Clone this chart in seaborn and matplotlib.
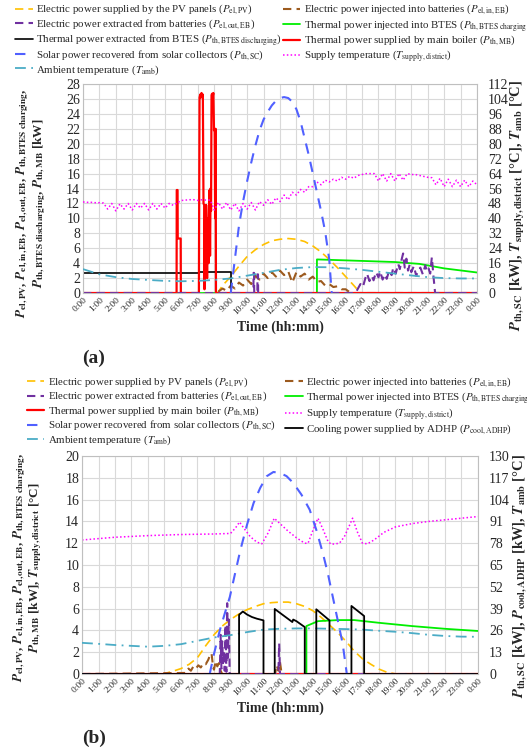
import matplotlib
matplotlib.use('Agg')
import matplotlib.pyplot as plt
import seaborn as sns

# ============================================================================
# DATA  (hours of day)
# ============================================================================
hour_ticks = list(range(25))
hour_labels = [f"{h % 24}:00" for h in hour_ticks]

# ---- panel (a) : left axis [kW]
pv_a_t = [0, 8.2, 8.5, 9, 9.5, 10, 10.5, 11, 11.5, 12, 12.5, 13, 13.5, 14, 14.5, 15, 15.5, 16, 16.5, 16.9, 24]
pv_a = [0, 0, 1.0, 2.2, 3.6, 4.9, 5.8, 6.5, 7.0, 7.2, 7.3, 7.2, 6.9, 6.3, 5.5, 4.5, 3.4, 2.2, 1.0, 0, 0]

ebin_a_t = [0, 8.0, 8.25, 8.5, 8.75, 9.0, 9.25, 9.5, 9.75, 10.0, 10.25, 10.5, 10.75, 11.0, 11.25, 11.5, 11.75,
            12.0, 12.25, 12.5, 12.75, 13.0, 13.25, 13.5, 13.75, 14.0, 14.25, 14.5, 14.75, 15.0, 15.25, 15.5,
            15.75, 16.0, 16.25, 16.5, 24]
ebin_a = [0, 0, 0.2, 0.6, 0.3, 1.0, 0.6, 1.4, 1.0, 1.8, 1.2, 2.3, 1.8, 2.6, 2.0, 2.8, 2.2,
          3.0, 2.4, 2.9, 1.4, 2.8, 2.2, 2.6, 1.8, 2.2, 1.5, 1.6, 1.0, 1.2, 0.8, 0.9,
          0.5, 0.5, 0.1, 0, 0]

ebout_a_t = [0, 10.38, 10.39, 10.42, 10.43, 10.62, 10.63, 10.66, 10.67, 16.6, 16.75, 16.9, 17.05, 17.2, 17.3,
             17.45, 17.6, 17.7, 17.85, 18.0, 18.1, 18.25, 18.4, 18.5, 18.65, 18.8, 18.9, 19.05, 19.2, 19.3,
             19.4, 19.5, 19.6, 19.7, 19.8, 19.9, 20.0, 20.15, 20.3, 20.4, 20.55, 20.7, 20.85, 20.95, 21.05,
             21.15, 21.25, 21.35, 21.45, 24]
ebout_a = [0, 0, 2.7, 2.7, 0, 0, 2.5, 2.5, 0, 0, 0.6, 1.2, 0.8, 2.0, 2.6,
           1.6, 2.3, 1.7, 2.8, 2.1, 2.9, 1.8, 2.5, 1.9, 3.0, 2.4, 3.4, 2.6, 3.9, 3.2,
           4.4, 5.3, 3.4, 4.6, 3.0, 3.8, 2.8, 3.6, 2.3, 3.0, 3.4, 2.5, 3.7, 2.9, 3.3,
           2.6, 4.8, 2.2, 0, 0]

chg_a_t = [0, 14.25, 14.25, 17, 19, 20.5, 22, 24]
chg_a = [0, 0, 4.5, 4.3, 4.15, 3.9, 3.3, 2.75]

dis_a_t = [0, 7.05, 7.05, 9.0, 9.0, 24]
dis_a = [2.7, 2.7, 2.85, 2.85, 0, 0]

mb_a_t = [0, 5.70, 5.71, 5.76, 5.77, 5.95, 5.96, 7.06, 7.07, 7.10, 7.14, 7.18, 7.22, 7.26, 7.30,
          7.34, 7.38, 7.40, 7.44, 7.47, 7.50, 7.53, 7.56, 7.59, 7.62, 7.65, 7.68, 7.71, 7.74, 7.77,
          7.80, 7.83, 7.86, 7.90, 7.94, 7.98, 8.02, 8.05, 8.08, 8.10, 8.11, 24]
mb_a = [0, 0, 13.8, 13.8, 7.3, 7.3, 0, 0, 7.5, 26.2, 26.6, 26.2, 26.8, 26.4, 26.6,
        12.0, 11.8, 0.5, 11.6, 4.0, 11.8, 10.0, 2.0, 10.0, 8.0, 4.0, 8.0, 13.8, 5.0, 14.0,
        11.0, 26.5, 26.7, 26.3, 26.8, 21.8, 22.0, 10.0, 22.0, 0, 0, 0]

# ---- panel (a) : right axis [kW] / [°C]
sc_a_t = [9.0, 9.25, 9.5, 9.75, 10.0, 10.25, 10.5, 10.75, 11.0, 11.25, 11.5, 11.75, 12.0, 12.25, 12.5,
          12.75, 13.0, 13.25, 13.5, 13.75, 14.0, 14.25, 14.5, 14.75, 15.0, 15.15]
sc_a = [0, 18, 36, 49, 60, 70, 79, 87, 93, 97, 100.5, 103, 104.5, 105, 104.5,
        102.5, 98.5, 92, 83, 74, 64, 54, 44, 33, 18, 0]

sup_a_t = [i * 0.25 for i in range(97)]
sup_a = [48.8, 48.6, 48.6, 48.4, 48.4, 48.2, 45.0, 48.0, 44.0, 47.8, 45.0, 48.0, 44.5, 48.0, 45.5, 48.0,
         44.5, 48.0, 45.0, 48.0, 45.5, 48.0, 47.0, 48.4, 49.6, 49.8, 50.0, 50.0, 49.6, 50.0, 49.8, 49.8,
         44.5, 48.5, 45.0, 48.5, 44.5, 48.0, 44.0, 48.0, 45.0, 48.5, 44.5, 49.0, 47.0, 50.0, 47.5, 51.0,
         49.0, 52.5, 50.0, 54.0, 52.5, 55.5, 54.0, 57.0, 57.0, 59.5, 58.0, 60.5, 59.5, 61.0, 60.0, 62.0,
         61.0, 62.5, 61.5, 63.0, 63.5, 64.0, 64.0, 64.0, 60.0, 64.0, 60.0, 64.0, 60.0, 64.0, 60.5, 64.0,
         63.5, 63.5, 63.0, 62.5, 62.0, 61.8, 58.0, 61.5, 57.0, 61.0, 57.0, 60.5, 57.0, 60.5, 57.0, 60.0,
         58.0]

amb_a_t = list(range(25))
amb_a = [12.8, 10.0, 8.5, 7.5, 7.0, 6.5, 6.3, 6.5, 7.0, 7.8, 9.3, 10.8, 12.4, 13.4, 13.9, 13.8, 13.2,
         12.4, 11.4, 10.4, 9.4, 8.5, 8.0, 7.8, 7.8]

# ---- panel (b) : left axis [kW] / [°C]
pv_b_t = [0, 4.9, 5.5, 6.0, 6.5, 7.0, 7.5, 8.0, 8.5, 9.0, 9.5, 10.0, 10.5, 11.0, 11.5, 12.0, 12.5, 13.0,
          13.5, 14.0, 14.5, 15.0, 15.5, 16.0, 16.5, 17.0, 17.5, 18.0, 18.5, 19.05, 24]
pv_b = [0, 0, 0.25, 0.5, 0.9, 1.5, 2.6, 3.6, 4.4, 5.0, 5.5, 5.9, 6.2, 6.45, 6.55, 6.6, 6.6, 6.45,
        6.2, 5.8, 5.2, 4.5, 3.8, 3.0, 2.1, 1.4, 0.9, 0.45, 0.15, 0, 0]

ebin_b_t = [0, 6.3, 6.45, 6.6, 6.75, 6.9, 7.05, 7.2, 7.35, 7.5, 7.65, 7.75, 7.85, 7.95, 8.0, 8.1, 8.2,
            8.3, 8.4, 8.5, 11.7, 11.8, 11.9, 12.0, 12.1, 24]
ebin_b = [0, 0.1, 0.5, 0.3, 0.7, 0.5, 0.8, 0.6, 1.0, 0.9, 1.3, 1.7, 1.9, 0.6, 0.4, 1.2, 0.7,
          1.0, 0.3, 0, 0, 0.8, 0.3, 1.1, 0, 0]

ebout_b_t = [0, 8.35, 8.4, 8.45, 8.5, 8.55, 8.6, 8.65, 8.7, 8.75, 8.8, 8.85, 8.9, 8.95, 9.0, 11.9, 11.95, 12.0, 24]
ebout_b = [0, 0, 3.6, 0.5, 3.0, 1.0, 2.0, 0.3, 4.5, 0.2, 6.5, 1.5, 5.0, 0, 0, 0, 2.8, 0, 0]

chg_b_t = [0, 13.6, 13.6, 14.3, 15.5, 16.5, 18, 20, 22, 24]
chg_b = [0, 0, 4.4, 4.85, 4.95, 4.95, 4.7, 4.4, 4.15, 3.95]

mb_b_t = [0, 24]
mb_b = [0, 0]

sup_b_t = [0, 2, 4, 6, 8, 9.0, 9.3, 9.55, 9.8, 10.2, 10.6, 10.9, 11.3, 11.65, 12.0, 12.5, 13.0, 13.5,
           13.7, 14.0, 14.3, 14.6, 14.9, 15.1, 15.6, 15.9, 16.2, 16.4, 16.7, 17.0, 17.3, 17.7, 18.3,
           19.0, 20.0, 21.0, 22.0, 23.0, 24.0]
sup_b = [12.3, 12.55, 12.7, 12.8, 12.85, 12.9, 13.4, 13.95, 13.4, 12.6, 12.1, 11.95, 13.0, 14.3, 13.8,
         13.1, 12.5, 12.0, 12.0, 13.2, 14.3, 13.3, 12.2, 11.9, 12.0, 12.6, 13.6, 14.3, 13.0, 12.0,
         11.95, 12.3, 13.0, 13.5, 13.8, 14.0, 14.15, 14.3, 14.45]

# ---- panel (b) : right axis [kW] / [°C]
sc_b_t = [7.74, 8.0, 8.35, 8.65, 8.96, 9.3, 9.6, 10.0, 10.4, 10.8, 11.2, 11.6, 12.0, 12.4, 12.8, 13.3,
          13.8, 14.2, 14.6, 14.9, 15.2, 15.5, 15.8, 16.05]
sc_b = [0, 12, 26, 36, 46, 61, 74, 89, 102, 111, 118, 120.5, 120, 118, 114, 107,
        98, 86, 72, 60, 46, 32, 18, 0]

adhp_b_t = [0, 9.52, 9.52, 9.75, 10.0, 10.3, 10.6, 11.0, 11.0, 11.68, 11.68, 12.2, 12.75, 12.8, 13.0,
            13.5, 13.5, 14.2, 14.2, 15.0, 15.0, 16.33, 16.33, 17.1, 17.1, 24]
adhp_b = [0, 0, 35.3, 37.3, 35.5, 34, 33, 32, 0, 0, 38.8, 35, 31, 32.5, 31.5,
          28, 0, 0, 38.6, 32, 0, 0, 40.6, 34.6, 0, 0]

amb_b_t = list(range(25))
amb_b = [18.6, 18.0, 17.3, 16.8, 16.3, 16.8, 17.8, 19.8, 21.8, 23.2, 25.0, 26.5, 27.0, 27.2, 27.2,
         27.0, 26.8, 26.5, 25.8, 25.2, 24.4, 23.4, 22.7, 22.3, 22.2]

# ============================================================================
# STYLE
# ============================================================================
sns.set_theme(style='whitegrid')
plt.rcParams['font.family'] = ['Liberation Serif', 'DejaVu Serif']
plt.rcParams['mathtext.fontset'] = 'stix'
plt.rcParams['axes.edgecolor'] = '#BFBFBF'
plt.rcParams['axes.linewidth'] = 0.8
plt.rcParams['grid.color'] = '#D9D9D9'
plt.rcParams['grid.linewidth'] = 0.8

C_PV = '#FFC000'
C_IN = '#9C5A1E'
C_OUT = '#7030A0'
C_CHG = '#00EE00'
C_DIS = '#000000'
C_MB = '#FF0000'
C_SC = '#5060FF'
C_SUP = '#FF00FF'
C_AMB = '#4BACC6'

LEG_FS = 7.8


def draw(ax, t, v, color, lw, dashes=None):
    sns.lineplot(x=t, y=v, ax=ax, color=color, linewidth=lw, estimator=None, sort=False, legend=False)
    line = ax.lines[-1]
    if dashes is not None:
        line.set_dashes(dashes)
    return line


def style_axes(ax, ax2, ymax_l, step_l, ymax_r, step_r):
    ax.set_xlim(0, 24)
    ax.set_xticks(hour_ticks)
    ax.set_xticklabels(hour_labels, rotation=45, ha='right', va='top', rotation_mode='anchor', fontsize=6.8)
    ax.set_ylim(0, ymax_l)
    ax.set_yticks(range(0, ymax_l + 1, step_l))
    ax.tick_params(axis='both', length=0, pad=2)
    ax.tick_params(axis='y', labelsize=10)
    ax.set_xlabel('Time (hh:mm)', fontsize=10, fontweight='bold', labelpad=3)
    ax2.set_ylim(0, ymax_r)
    ax2.set_yticks(range(0, ymax_r + 1, step_r))
    ax2.tick_params(axis='y', length=0, labelsize=10, pad=8)
    ax2.grid(False)
    for s in ax2.spines.values():
        s.set_visible(False)
    ax2.set_facecolor('none')


fig = plt.figure(figsize=(5.27, 7.49), dpi=100)

# ============================================================================
# PANEL (a)
# ============================================================================
ax_a = fig.add_axes([0.1575, 0.6088, 0.7476, 0.279])
ax_a2 = ax_a.twinx()

h_pv = draw(ax_a, pv_a_t, pv_a, C_PV, 1.2, (5, 3))
h_in = draw(ax_a, ebin_a_t, ebin_a, C_IN, 1.5, (4, 2.5))
h_chg = draw(ax_a, chg_a_t, chg_a, C_CHG, 1.3)
h_dis = draw(ax_a, dis_a_t, dis_a, C_DIS, 1.2)
h_mb = draw(ax_a, mb_a_t, mb_a, C_MB, 1.6)
h_out = draw(ax_a, ebout_a_t, ebout_a, C_OUT, 1.5, (4, 2.5))
h_sup = draw(ax_a2, sup_a_t, sup_a, C_SUP, 1.1, (1, 1.5))
h_amb = draw(ax_a2, amb_a_t, amb_a, C_AMB, 1.3, (6, 3, 1, 3))
h_sc = draw(ax_a2, sc_a_t, sc_a, C_SC, 1.5, (5, 4))

style_axes(ax_a, ax_a2, 28, 2, 112, 8)
ax_a.set_ylabel(r"$\mathbfit{P}_{\mathbf{el,PV}}$, $\mathbfit{P}_{\mathbf{el,in,EB}}$, "
                r"$\mathbfit{P}_{\mathbf{el,out,EB}}$, $\mathbfit{P}_{\mathbf{th,BTES\ charging}}$," "\n"
                r"$\mathbfit{P}_{\mathbf{th,BTES\ discharging}}$, $\mathbfit{P}_{\mathbf{th,MB}}$ [kW]",
                fontsize=9.5, fontweight='bold', linespacing=1.0)
ax_a.yaxis.set_label_coords(-0.09, 0.43)
ax_a2.set_ylabel(r"$\mathbfit{P}_{\mathbf{th,SC}}$ [kW], $\mathbfit{T}_{\mathbf{supply,district}}$ [°C], "
                 r"$\mathbfit{T}_{\mathbf{amb}}$ [°C]", fontsize=10.5, fontweight='bold')
ax_a2.yaxis.set_label_coords(1.082, 0.42)

# legend filled column by column
leg_a_h = [h_pv, h_out, h_dis, h_sc, h_amb, h_in, h_chg, h_mb, h_sup]
leg_a_l = [r"Electric power supplied by the PV panels ($P_{\rm el,PV}$)",
           r"Electric power extracted from batteries ($P_{\rm el,out,EB}$)",
           r"Thermal power extracted from BTES ($P_{\rm th,BTES\ discharging}$)",
           r"Solar power recovered from solar collectors ($P_{\rm th,SC}$)",
           r"Ambient temperature ($T_{\rm amb}$)",
           r"Electric power injected into batteries ($P_{\rm el,in,EB}$)",
           r"Thermal power injected into BTES ($P_{\rm th,BTES\ charging}$)",
           r"Thermal power supplied by main boiler ($P_{\rm th,MB}$)",
           r"Supply temperature ($T_{\rm supply,district}$)"]
fig.legend(leg_a_h, leg_a_l, ncol=2, loc='upper left', bbox_to_anchor=(0.025, 0.999), frameon=False,
           fontsize=LEG_FS, handlelength=1.6, handletextpad=0.3, columnspacing=0.1, labelspacing=0.02,
           borderaxespad=0, borderpad=0.2)
fig.text(0.155, 0.516, '(a)', fontsize=14, fontweight='bold')

# ============================================================================
# PANEL (b)
# ============================================================================
ax_b = fig.add_axes([0.1556, 0.1001, 0.7514, 0.291])
ax_b2 = ax_b.twinx()

hb_pv = draw(ax_b, pv_b_t, pv_b, C_PV, 1.2, (5, 3))
hb_in = draw(ax_b, ebin_b_t, ebin_b, C_IN, 1.5, (4, 2.5))
hb_chg = draw(ax_b, chg_b_t, chg_b, C_CHG, 1.3)
hb_sup = draw(ax_b, sup_b_t, sup_b, C_SUP, 1.1, (1, 1.5))
hb_mb = draw(ax_b, mb_b_t, mb_b, C_MB, 1.6)
hb_out = draw(ax_b, ebout_b_t, ebout_b, C_OUT, 1.5, (4, 2.5))
hb_amb = draw(ax_b2, amb_b_t, amb_b, C_AMB, 1.3, (6, 3, 1, 3))
hb_sc = draw(ax_b2, sc_b_t, sc_b, C_SC, 1.5, (5, 4))
hb_adhp = draw(ax_b2, adhp_b_t, adhp_b, C_DIS, 1.3)

style_axes(ax_b, ax_b2, 20, 2, 130, 13)
ax_b.set_ylabel(r"$\mathbfit{P}_{\mathbf{el,PV}}$, $\mathbfit{P}_{\mathbf{el,in,EB}}$, "
                r"$\mathbfit{P}_{\mathbf{el,out,EB}}$, $\mathbfit{P}_{\mathbf{th,BTES\ charging}}$," "\n"
                r"$\mathbfit{P}_{\mathbf{th,MB}}$ [kW], $\mathbfit{T}_{\mathbf{supply,district}}$ [°C]",
                fontsize=9.5, fontweight='bold', linespacing=1.0)
ax_b.yaxis.set_label_coords(-0.095, 0.49)
ax_b2.set_ylabel(r"$\mathbfit{P}_{\mathbf{th,SC}}$ [kW], $\mathbfit{P}_{\mathbf{cool,ADHP}}$ [kW], "
                 r"$\mathbfit{T}_{\mathbf{amb}}$ [°C]", fontsize=10.5, fontweight='bold')
ax_b2.yaxis.set_label_coords(1.085, 0.45)

leg_b_h = [hb_pv, hb_out, hb_mb, hb_sc, hb_amb, hb_in, hb_chg, hb_sup, hb_adhp]
leg_b_l = [r"Electric power supplied by PV panels ($P_{\rm el,PV}$)",
           r"Electric power extracted from batteries ($P_{\rm el,out,EB}$)",
           r"Thermal power supplied by main boiler ($P_{\rm th,MB}$)",
           r"Solar power recovered from solar collectors ($P_{\rm th,SC}$)",
           r"Ambient temperature ($T_{\rm amb}$)",
           r"Electric power injected into batteries ($P_{\rm el,in,EB}$)",
           r"Thermal power injected into BTES ($P_{\rm th,BTES\ charging}$)",
           r"Supply temperature ($T_{\rm supply,district}$)",
           r"Cooling power supplied by ADHP ($P_{\rm cool,ADHP}$)"]
fig.legend(leg_b_h, leg_b_l, ncol=2, loc='upper left', bbox_to_anchor=(0.047, 0.502), frameon=False,
           fontsize=LEG_FS, handlelength=1.6, handletextpad=0.3, columnspacing=0.9, labelspacing=0.02,
           borderaxespad=0, borderpad=0.2)
fig.text(0.155, 0.008, '(b)', fontsize=14, fontweight='bold')

fig.savefig('out.png', dpi=100)
